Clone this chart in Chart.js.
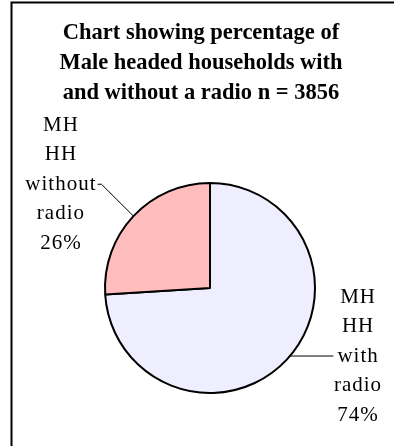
<!DOCTYPE html>
<html>
<head>
<meta charset="utf-8">
<script src="https://cdn.jsdelivr.net/npm/chart.js@4.4.1/dist/chart.umd.min.js"></script>
<style>
  html, body { margin: 0; padding: 0; background: #ffffff; }
  #wrap { position: relative; width: 394px; height: 446px; }
  canvas { display: block; }
</style>
</head>
<body>
<div id="wrap"><canvas id="chart" width="394" height="446"></canvas></div>
<script>
// Chart data
const titleLines = ['Chart showing percentage of', 'Male headed households with', 'and without a radio n = 3856'];
const categories = ['MH HH with radio', 'MH HH without radio'];
const percentages = [74, 26];
const sliceColors = ['#EEEEFF', '#FFBDBD'];

// Label placement, relative to pie centre, in units of the pie radius
const labelStyles = [
  { cx: 1.41, firstY: 0.086, leaderLine: 2, side: 'right' },
  { cx: -1.42, firstY: -1.55, leaderLine: 2, side: 'left' }
];

const serif = '"Liberation Serif", "Times New Roman", serif';

const decorPlugin = {
  id: 'decor',
  afterDraw(chart) {
    const ctx = chart.ctx;
    ctx.save();

    // frame lines
    ctx.strokeStyle = '#000';
    ctx.lineWidth = 2;
    ctx.beginPath();
    ctx.moveTo(11.5, 446);
    ctx.lineTo(11.5, 2.5);
    ctx.lineTo(394, 2.5);
    ctx.stroke();

    // title
    ctx.fillStyle = '#000';
    ctx.textAlign = 'center';
    ctx.textBaseline = 'middle';
    ctx.font = 'bold 22.5px ' + serif;
    titleLines.forEach((t, i) => ctx.fillText(t, 201, 33 + i * 30));

    // slice labels with leader lines
    const meta = chart.getDatasetMeta(0);
    const lineGap = 29.5;
    ctx.font = '21px ' + serif;
    try { ctx.letterSpacing = '1px'; } catch (e) {}
    meta.data.forEach((arc, i) => {
      const p = arc.getProps(['x', 'y', 'startAngle', 'endAngle', 'outerRadius'], true);
      const r = p.outerRadius;
      const st = labelStyles[i];
      const words = categories[i].split(' ');
      const lines = words.concat([percentages[i] + '%']);
      const lx = p.x + st.cx * r;
      const ly0 = p.y + st.firstY * r;
      lines.forEach((t, k) => ctx.fillText(t, lx, ly0 + k * lineGap));

      const lineY = ly0 + st.leaderLine * lineGap;
      const halfW = ctx.measureText(lines[st.leaderLine]).width / 2;
      ctx.strokeStyle = '#000';
      ctx.lineWidth = 1;
      ctx.beginPath();
      if (st.side === 'right') {
        const dy = lineY - p.y;
        const ex = p.x + Math.sqrt(Math.max(r * r - dy * dy, 0));
        ctx.moveTo(ex, lineY);
        ctx.lineTo(lx - halfW - 4, lineY);
      } else {
        const mid = (p.startAngle + p.endAngle) / 2;
        const px = p.x + Math.cos(mid) * r;
        const py = p.y + Math.sin(mid) * r;
        const tx = lx + halfW + 1;
        ctx.moveTo(tx, lineY);
        ctx.lineTo(tx + 4, lineY);
        ctx.lineTo(px, py);
      }
      ctx.stroke();
    });
    ctx.restore();
  }
};

new Chart(document.getElementById('chart'), {
  type: 'pie',
  data: {
    labels: categories,
    datasets: [{
      data: percentages,
      backgroundColor: sliceColors,
      borderColor: '#000',
      borderWidth: 2
    }]
  },
  options: {
    responsive: false,
    animation: false,
    layout: { padding: { left: 104, right: 78, top: 182, bottom: 52 } },
    plugins: {
      legend: { display: false },
      tooltip: { enabled: false },
      title: { display: false }
    }
  },
  plugins: [decorPlugin]
});
</script>
</body>
</html>
